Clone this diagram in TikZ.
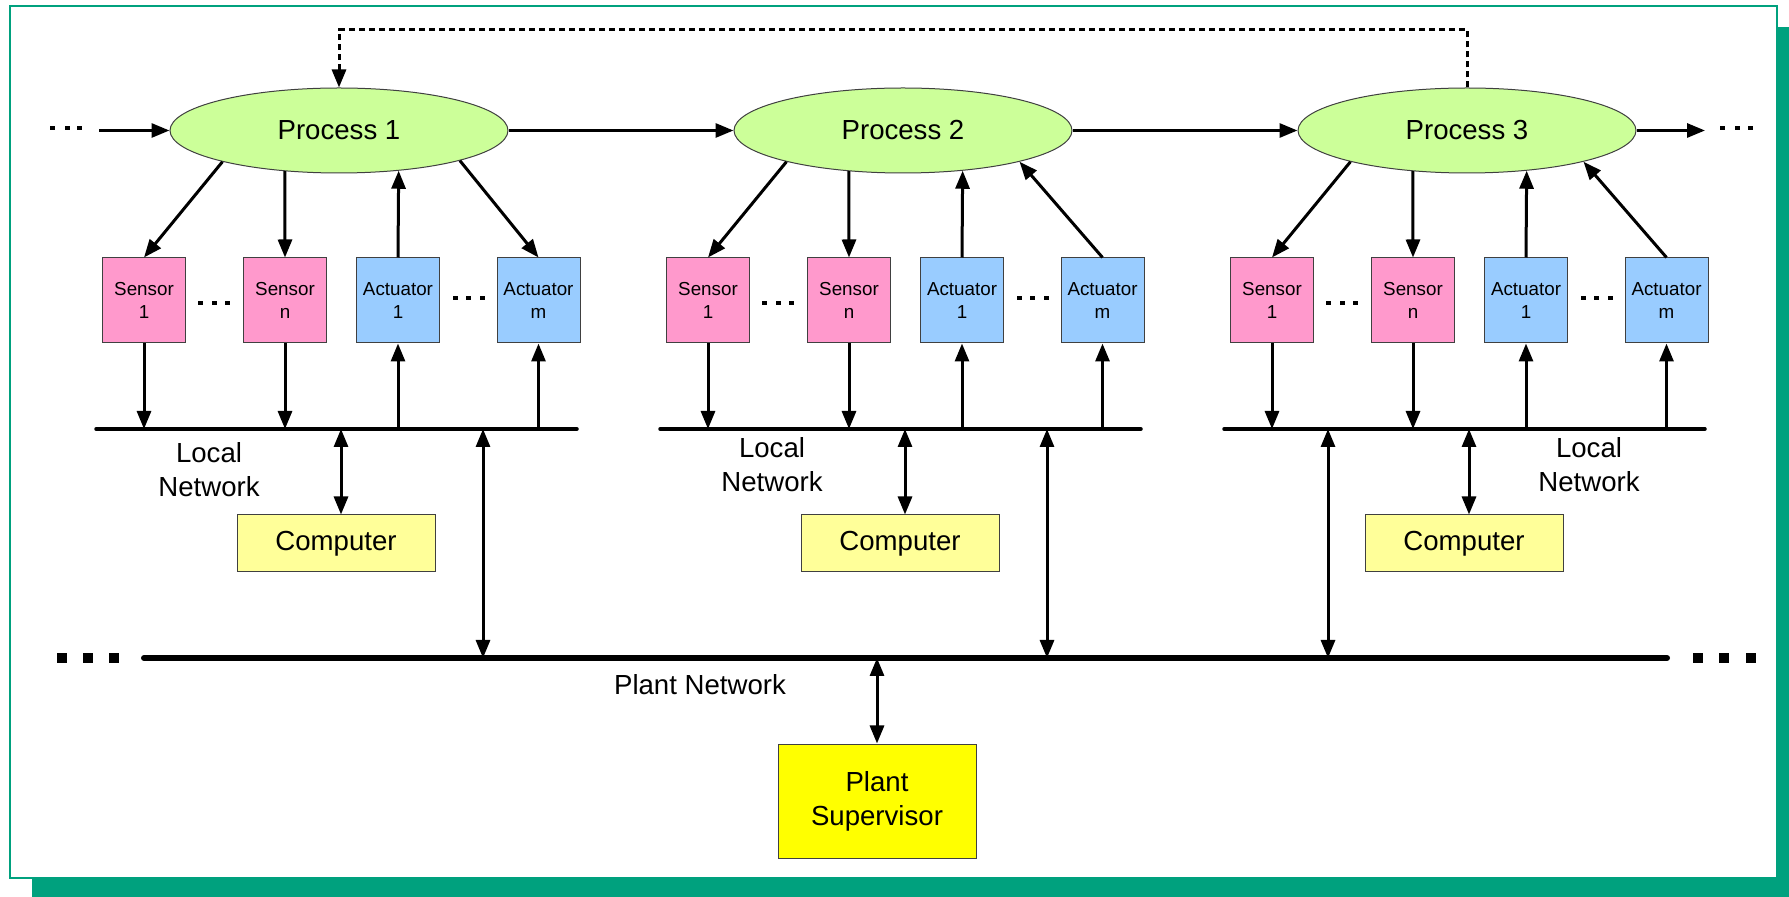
\documentclass[tikz,border=0pt]{standalone}
\usepackage{fontspec}
\setmainfont{Liberation Sans}
\usetikzlibrary{shapes.geometric,arrows.meta}
\definecolor{frameteal}{RGB}{0,161,126}
\definecolor{procgreen}{RGB}{204,255,153}
\definecolor{sensorpink}{RGB}{255,153,204}
\definecolor{actblue}{RGB}{153,204,255}
\definecolor{compyellow}{RGB}{255,255,153}
\definecolor{supyellow}{RGB}{255,255,0}
\definecolor{edgegray}{RGB}{64,64,64}

\begin{document}
\begin{tikzpicture}[x=0.5pt,y=-0.5pt,
  big/.style={font=\fontsize{13.8}{17}\selectfont},
  process/.style={ellipse, draw=edgegray, line width=0.5pt, fill=procgreen,
    minimum width=169pt, minimum height=42.5pt, inner sep=0pt, big},
  device/.style={rectangle, draw=edgegray, line width=0.5pt,
    minimum width=41.5pt, minimum height=42.5pt, inner sep=0pt, align=center,
    font=\fontsize{9.4}{11.5}\selectfont},
  sensor/.style={device, fill=sensorpink},
  actuator/.style={device, fill=actblue},
  computer/.style={rectangle, draw=edgegray, line width=0.5pt, fill=compyellow,
    minimum width=99pt, minimum height=28.5pt, inner sep=0pt, big},
  supervisor/.style={rectangle, draw=edgegray, line width=0.5pt, fill=supyellow,
    minimum width=99pt, minimum height=57pt, inner sep=0pt, align=center, big},
  label/.style={big, align=center, inner sep=0pt},
  tip/.tip={Triangle[length=9pt,width=7pt]},
  link/.style={line width=1.5pt, -tip},
  dbl/.style={line width=1.5pt, tip-tip},
  feedback/.style={line width=1.5pt, dash pattern=on 3pt off 2pt, -tip},
  bus/.style={line width=1.75pt, line cap=round},
  plantbus/.style={line width=3pt, line cap=round},
]
\useasboundingbox (0,0) rectangle (1789,897);

% frame with offset shadow
\fill[frameteal] (32,27) rectangle (1789,897);
\draw[frameteal, line width=1pt, fill=white] (10,6) rectangle (1776.5,877.5);

% one cell per process: ellipse, sensors, actuators, local network, computer
\foreach \g/\gx/\vx/\lx/\ly in {1/0/483/209/470, 2/564/483/208/465, 3/1128/200/461/464.5}{
  \node[process] (e\g) at (339+\gx,130.5) {Process \g};
  \node[sensor] (s\g) at (144+\gx,300.5) {Sensor\\1};
  \node[sensor] (n\g) at (285+\gx,300.5) {Sensor\\n};
  \node[actuator] (a\g) at (398+\gx,300.5) {Actuator\\1};
  \node[actuator] (m\g) at (538.5+\gx,300.5) {Actuator\\m};
  \node[computer] (c\g) at (336+\gx,543.5) {Computer};
  \node[label] (ln\g) at (\lx+\gx,\ly) {Local\\Network};

  \coordinate (bl\g) at (96+\gx,429);
  \coordinate (br\g) at (577+\gx,429);
  \draw[bus] (bl\g) -- (br\g);

  \draw[link] (e\g.195) -- (s\g.north);
  \draw[link] (e\g.217) -- (n\g.north);
  \draw[link] (a\g.north) -- (e\g.326);

  \draw[link] (s\g.south) -- (s\g.south |- bl\g);
  \draw[link] (n\g.south) -- (n\g.south |- bl\g);
  \draw[link] (a\g.south |- bl\g) -- (a\g.south);
  \draw[link] (m\g.south |- bl\g) -- (m\g.south);

  \coordinate (ct\g) at ([xshift=2.5pt]c\g.north);
  \draw[dbl] (ct\g |- bl\g) -- (ct\g);

  \coordinate (vt\g) at (\vx+\gx,429);
  \coordinate (vb\g) at (\vx+\gx,658);
  \draw[dbl] (vt\g) -- (vb\g);

  % ellipsis marks between the devices
  \foreach \d in {-13.5,0,13.5}{
    \fill (214+\gx+\d-2.5,301) rectangle ++(5,4.5);
    \fill (468.5+\gx+\d-2.5,296) rectangle ++(5,4.5);
  }
}

% last actuator of each process
\draw[link] (e1.346) -- (m1.north);
\draw[link] (m2.north) -- (e2.345);
\draw[link] (m3.north) -- (e3.345);

% process chain
\coordinate (inL) at (99,130.5);
\coordinate (outR) at (1705,130.5);
\draw[link] (inL) -- (e1.west);
\draw[link] (e1.east) -- (e2.west);
\draw[link] (e2.east) -- (e3.west);
\draw[link] (e3.east) -- (outR);
\foreach \x in {52.7,67,79.5,1722.5,1737,1750}{
  \fill (\x-2.5,126) rectangle ++(5,4.5);
}

% feedback from process 3 to process 1
\coordinate (fbR) at (1467,30);
\coordinate (fbL) at (339,30);
\draw[feedback] (e3.north) -- (fbR) -- (fbL) -- (e1.north);

% plant network and supervisor
\coordinate (pl) at (144,658);
\coordinate (pr) at (1667,658);
\draw[plantbus] (pl) -- (pr);
\foreach \x in {57,83,109,1693,1719,1746}{
  \fill (\x,653) rectangle ++(10,10);
}
\node[label] (pn) at (700,685) {Plant Network};
\node[supervisor] (sup) at (877,801) {Plant\\Supervisor};
\draw[dbl] (sup.north |- pl) -- (sup.north);
\end{tikzpicture}
\end{document}
